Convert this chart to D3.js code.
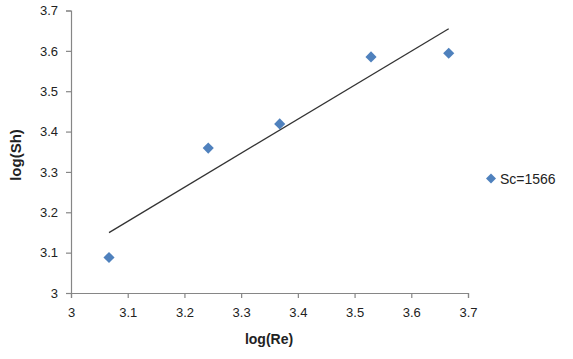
<!DOCTYPE html>
<html>
<head>
<meta charset="utf-8">
<script src="https://cdn.jsdelivr.net/npm/d3@7"></script>
<style>
  body { margin: 0; background: #fff; }
  svg { display: block; font-family: "Liberation Sans", "DejaVu Sans", sans-serif; }
</style>
</head>
<body>
<div id="chart"></div>
<script>
// Data
const logRe = [3.067, 3.242, 3.368, 3.529, 3.666];
const logSh = [3.088, 3.359, 3.419, 3.585, 3.594];
const seriesName = "Sc=1566";
const xTicks = [3, 3.1, 3.2, 3.3, 3.4, 3.5, 3.6, 3.7];
const yTicks = [3, 3.1, 3.2, 3.3, 3.4, 3.5, 3.6, 3.7];

const width = 573, height = 359;
const margin = { left: 71, top: 10.5, right: 105, bottom: 66 };

const svg = d3.select("#chart").append("svg")
  .attr("width", width)
  .attr("height", height);

const x = d3.scaleLinear().domain([3, 3.7]).range([margin.left, 468]);
const y = d3.scaleLinear().domain([3, 3.7]).range([293, margin.top]);

// axes
const xAxis = svg.append("g")
  .attr("transform", `translate(0,${y(3)})`)
  .call(d3.axisBottom(x).tickValues(xTicks).tickSize(5).tickPadding(10)
    .tickFormat(d => d3.format("")(+d.toFixed(1))));

const yAxis = svg.append("g")
  .attr("transform", `translate(${x(3)},0)`)
  .call(d3.axisLeft(y).tickValues(yTicks).tickSize(5).tickPadding(8)
    .tickFormat(d => d3.format("")(+d.toFixed(1))));

[xAxis, yAxis].forEach(a => {
  a.select(".domain").attr("stroke", "#868686").attr("stroke-width", 1.2);
  a.selectAll(".tick line").attr("stroke", "#868686").attr("stroke-width", 1.2);
  a.selectAll(".tick text").attr("fill", "#222").style("font-size", "13px");
});

// linear trendline (least squares)
const mx = d3.mean(logRe), my = d3.mean(logSh);
const sxy = d3.sum(logRe, (v, i) => (v - mx) * (logSh[i] - my));
const sxx = d3.sum(logRe, v => (v - mx) * (v - mx));
const slope = sxy / sxx;
const intercept = my - slope * mx;
const xExt = d3.extent(logRe);

svg.append("line")
  .attr("x1", x(xExt[0])).attr("y1", y(intercept + slope * xExt[0]))
  .attr("x2", x(xExt[1])).attr("y2", y(intercept + slope * xExt[1]))
  .attr("stroke", "#333")
  .attr("stroke-width", 1.3);

// points
const diamond = d3.symbol(d3.symbolSquare, 62);
svg.selectAll(".pt")
  .data(logRe.map((v, i) => [v, logSh[i]]))
  .enter()
  .append("path")
  .attr("class", "pt")
  .attr("d", diamond)
  .attr("fill", "#4F81BD")
  .attr("transform", d => `translate(${x(d[0])},${y(d[1])}) rotate(45)`);

// axis titles
svg.append("text")
  .attr("x", 269).attr("y", 344)
  .attr("text-anchor", "middle")
  .style("font-size", "14px").style("font-weight", "bold")
  .attr("fill", "#222")
  .text("log(Re)");

svg.append("text")
  .attr("transform", "translate(21,155) rotate(-90)")
  .attr("text-anchor", "middle")
  .style("font-size", "15px").style("font-weight", "bold")
  .attr("fill", "#222")
  .text("log(Sh)");

// legend
svg.append("path")
  .attr("d", d3.symbol(d3.symbolSquare, 50))
  .attr("fill", "#4F81BD")
  .attr("transform", "translate(491,178.5) rotate(45)");

svg.append("text")
  .attr("x", 500).attr("y", 183.5)
  .style("font-size", "14px")
  .attr("fill", "#222")
  .text(seriesName);
</script>
</body>
</html>
